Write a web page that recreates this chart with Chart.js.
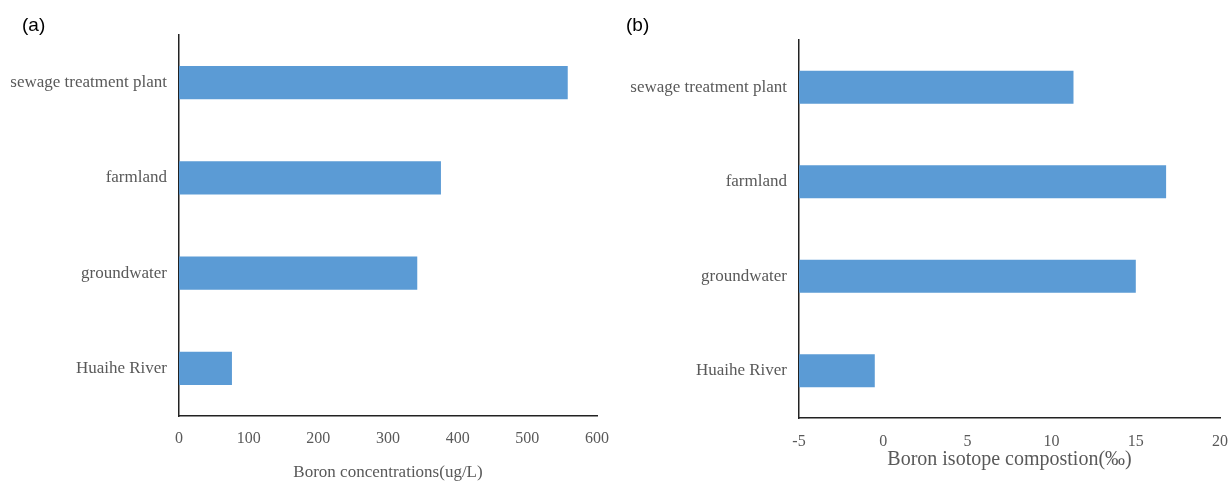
<!DOCTYPE html>
<html>
<head>
<meta charset="utf-8">
<script src="https://cdn.jsdelivr.net/npm/chart.js@4.4.1/dist/chart.umd.min.js"></script>
<style>
  html, body { margin: 0; padding: 0; background: #fff; width: 1231px; height: 481px; overflow: hidden; }
  .panel { position: absolute; top: 0; height: 481px; }
  #wrapA { left: 0; width: 615px; }
  #wrapB { left: 615px; width: 616px; }
  .tag { position: absolute; font-family: "Liberation Sans", Arial, sans-serif; font-size: 19px; color: #000; line-height: 22px; }
</style>
</head>
<body>
<div class="panel" id="wrapA"><canvas id="chartA"></canvas></div>
<div class="panel" id="wrapB"><canvas id="chartB"></canvas></div>
<div class="tag" style="left:22px;top:14px">(a)</div>
<div class="tag" style="left:626px;top:14px">(b)</div>
<script>
// Sampling sites (top to bottom)
const sites = ['sewage treatment plant', 'farmland', 'groundwater', 'Huaihe River'];

// (a) Boron concentration, ug/L
const boronConc = [558, 376, 342, 76];
const concAxis = [0, 600, 100];        // min, max, step

// (b) Boron isotope composition, ‰
const boronIsotope = [11.3, 16.8, 15.0, -0.5];
const isoAxis = [-5, 20, 5];           // min, max, step

const BAR = '#5B9BD5';
const TEXT = '#595959';
const SERIF = '"Liberation Serif", "Times New Roman", serif';

function barChart(canvasId, values, axis, title, geom) {
  return new Chart(document.getElementById(canvasId), {
    type: 'bar',
    data: {
      labels: sites,
      datasets: [{
        data: values,
        base: axis[0],
        backgroundColor: BAR,
        borderWidth: 0,
        categoryPercentage: 1,
        barPercentage: 0.35
      }]
    },
    options: {
      indexAxis: 'y',
      responsive: true,
      maintainAspectRatio: false,
      animation: false,
      layout: { padding: { top: geom.top, right: geom.right, bottom: 0, left: 0 } },
      plugins: { legend: { display: false }, tooltip: { enabled: false } },
      scales: {
        x: {
          min: axis[0],
          max: axis[1],
          ticks: { stepSize: axis[2], padding: geom.tickPad, color: TEXT, font: { family: SERIF, size: 16 }, maxRotation: 0 },
          grid: { display: false, drawTicks: false },
          border: { color: '#222', width: 1.5 },
          title: {
            display: true,
            text: title,
            color: TEXT,
            font: { family: SERIF, size: geom.titleSize, lineHeight: 1 },
            padding: { top: 0, bottom: geom.titleBottom }
          },
          afterFit(scale) {
            scale.height = geom.xHeight;
            // end labels may hang past the plot edges
            scale.paddingLeft = 0;
            scale.paddingRight = 0;
          }
        },
        y: {
          ticks: { padding: 12, color: TEXT, font: { family: SERIF, size: 17 } },
          grid: { display: false, drawTicks: false },
          border: { color: '#222', width: 1.5 },
          afterFit(scale) {
            scale.width = geom.yWidth;
            scale.paddingTop = 0;
            scale.paddingBottom = 0;
          }
        }
      }
    }
  });
}

barChart('chartA', boronConc, concAxis, 'Boron concentrations(ug/L)',
  { top: 35, right: 18, yWidth: 179, xHeight: 65, tickPad: 13, titleSize: 17, titleBottom: 0 });

barChart('chartB', boronIsotope, isoAxis, 'Boron isotope compostion(\u2030)',
  { top: 40, right: 11, yWidth: 184, xHeight: 63, tickPad: 14, titleSize: 20, titleBottom: 11 });
</script>
</body>
</html>
